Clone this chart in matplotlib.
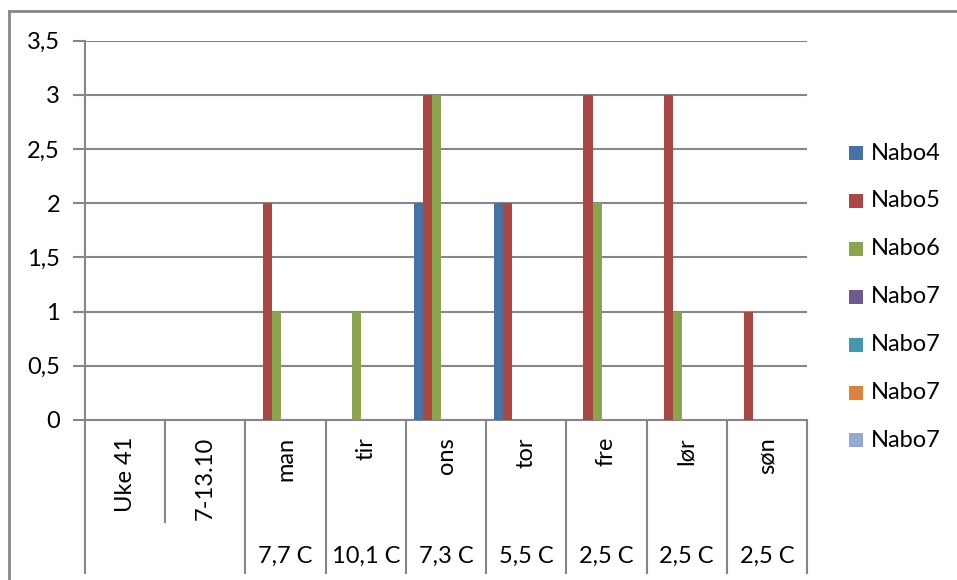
import matplotlib
matplotlib.use("Agg")
import matplotlib.pyplot as plt
from matplotlib.lines import Line2D
from matplotlib.patches import Rectangle

plt.rcParams['font.family'] = ['Lato', 'DejaVu Sans']

inner_labels = ["Uke 41", "7-13.10", "man", "tir", "ons", "tor", "fre", "lør", "søn"]
outer_labels = ["", "", "7,7 C", "10,1 C", "7,3 C", "5,5 C", "2,5 C", "2,5 C", "2,5 C"]
series_names = ["Nabo4", "Nabo5", "Nabo6", "Nabo7", "Nabo7", "Nabo7", "Nabo7"]
nabo4 = [0, 0, 0, 0, 2, 2, 0, 0, 0]
nabo5 = [0, 0, 2, 0, 3, 2, 3, 3, 1]
nabo6 = [0, 0, 1, 1, 3, 0, 2, 1, 0]
nabo7a = [0, 0, 0, 0, 0, 0, 0, 0, 0]
nabo7b = [0, 0, 0, 0, 0, 0, 0, 0, 0]
nabo7c = [0, 0, 0, 0, 0, 0, 0, 0, 0]
nabo7d = [0, 0, 0, 0, 0, 0, 0, 0, 0]
series = [nabo4, nabo5, nabo6, nabo7a, nabo7b, nabo7c, nabo7d]
colors = ["#4572A7", "#AA4643", "#89A54E", "#71588F", "#4198AF", "#DB843D", "#93A9CF"]
yticks = [0, 0.5, 1, 1.5, 2, 2.5, 3, 3.5]
ytick_labels = ["0", "0,5", "1", "1,5", "2", "2,5", "3", "3,5"]

W, H = 957, 580
fig = plt.figure(figsize=(W / 100, H / 100), dpi=100)
FS = 17

# plot area in pixels
px_l, px_r, px_top, px_bot = 85, 807, 40.5, 420
ax = fig.add_axes([px_l / W, 1 - px_bot / H, (px_r - px_l) / W, (px_bot - px_top) / H])

n = len(inner_labels)
ns = len(series)
bw = 0.1147
grid_c = "#868686"

for i, (vals, c) in enumerate(zip(series, colors)):
    xs = [k - ns * bw / 2 + (i + 0.5) * bw for k in range(n)]
    ax.bar(xs, vals, width=bw, color=c, zorder=3, linewidth=0)

ax.set_xlim(-0.5, n - 0.5)
ax.set_ylim(0, 3.5)
ax.set_yticks(yticks)
ax.set_yticklabels(ytick_labels, fontsize=FS, color="black")
ax.yaxis.grid(True, color=grid_c, linewidth=1.5, zorder=0)
ax.tick_params(axis='y', length=9, width=1.5, color=grid_c, pad=9)
ax.set_xticks([])
for s in ["top", "right"]:
    ax.spines[s].set_visible(False)
ax.spines["left"].set_color(grid_c)
ax.spines["left"].set_linewidth(1.5)
ax.spines["bottom"].set_color(grid_c)
ax.spines["bottom"].set_linewidth(1.5)

# category axis (multi-level) drawn in figure pixel coordinates
def fx(px):
    return px / W

def fy(py):
    return 1 - py / H

cw = (px_r - px_l) / n
for k in range(n + 1):
    x = px_l + k * cw
    y_end = 522 if k == 1 else 573
    fig.add_artist(Line2D([fx(x), fx(x)], [fy(420), fy(y_end)], color=grid_c, linewidth=1.5))

for k, lab in enumerate(inner_labels):
    xc = px_l + (k + 0.5) * cw
    fig.text(fx(xc), fy(437), lab, rotation=90, ha='center', va='top', fontsize=FS)
for k, lab in enumerate(outer_labels):
    if lab:
        xc = px_l + (k + 0.5) * cw
        fig.text(fx(xc), fy(556), lab, ha='center', va='center', fontsize=FS)

# legend
leg_y0, leg_dy = 153, 47.9
for i, (name, c) in enumerate(zip(series_names, colors)):
    yc = leg_y0 + i * leg_dy
    fig.add_artist(Rectangle((fx(849), fy(yc + 7)), 14 / W, 14 / H, color=c, linewidth=0))
    fig.text(fx(871), fy(yc), name, ha='left', va='center', fontsize=FS)

# chart border (top and left visible)
fig.add_artist(Line2D([fx(8.5), fx(957)], [fy(11), fy(11)], color=grid_c, linewidth=2))
fig.add_artist(Line2D([fx(8.5), fx(8.5)], [fy(11), fy(580)], color=grid_c, linewidth=2))

fig.savefig("out.png", dpi=100)
